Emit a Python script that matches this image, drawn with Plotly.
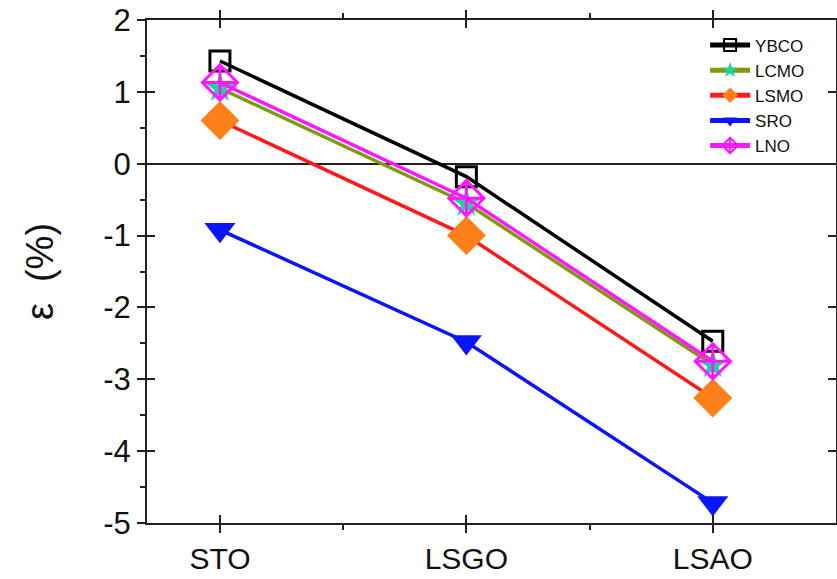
import plotly.graph_objects as go

substrates = ["STO", "LSGO", "LSAO"]
x_pos = [0, 1, 2]
y_ticks = [-5, -4, -3, -2, -1, 0, 1, 2]
y_ticktext = ["-5", "-4", "-3", "-2", "-1", "0", "1", "2"]

ybco = [1.43, -0.18, -2.47]
lcmo = [1.05, -0.55, -2.80]
lsmo = [0.60, -1.00, -3.26]
sro = [-0.92, -2.48, -4.72]
lno = [1.13, -0.48, -2.75]

series = [
    ("YBCO", ybco, "black", "square-open", "black", 20, 3),
    ("LCMO", lcmo, "#7f9a0e", "star", "#1fd3a0", 22, 0),
    ("LSMO", lsmo, "#ff1a1a", "diamond", "#ff8019", 30, 0),
    ("SRO", sro, "#0a14ff", "triangle-down", "#0a14ff", 27, 0),
    ("LNO", lno, "#ff18ff", "diamond-cross-open", "#ff18ff", 27, 3),
]

fig = go.Figure()
for name, vals, lc, sym, mc, ms, mlw in series:
    fig.add_trace(go.Scatter(
        x=x_pos, y=vals, name=name, mode="lines+markers",
        line=dict(color=lc, width=3.5),
        marker=dict(symbol=sym, size=ms, color=mc,
                    line=dict(color=mc, width=mlw)),
    ))

fig.add_trace(go.Scatter(x=[0], y=[0], xaxis="x2", yaxis="y2",
                         mode="markers", marker=dict(opacity=0),
                         showlegend=False, hoverinfo="skip"))

font = "Liberation Sans, Arial, sans-serif"
xr = [-0.296, 2.5]
yr = [-5, 2]
common_x = dict(range=xr, tickvals=x_pos, ticktext=substrates,
                showgrid=False, zeroline=False, automargin=False,
                linecolor="#222", linewidth=2, tickcolor="#222",
                ticklen=8, tickwidth=1.5, mirror="ticks",
                minor=dict(tickvals=[0.5, 1.5], ticklen=5, tickwidth=1.5,
                           tickcolor="#222"))
common_y = dict(range=yr, tickvals=y_ticks, ticktext=y_ticktext,
                showgrid=False, automargin=False,
                linecolor="#222", linewidth=2, tickcolor="#222",
                ticklen=8, tickwidth=1.5, mirror="ticks",
                minor=dict(dtick=0.5, ticklen=5, tickwidth=1.5,
                           tickcolor="#222"))

fig.update_layout(
    width=837, height=579,
    margin=dict(l=147, r=1, t=20, b=56),
    paper_bgcolor="white", plot_bgcolor="white",
    font=dict(family=font, color="#111"),
    xaxis=dict(**common_x, ticks="outside", tickfont=dict(size=30)),
    yaxis=dict(**common_y, ticks="outside", zeroline=True,
               zerolinecolor="#222", zerolinewidth=1.5,
               tickfont=dict(size=31),
               title=dict(text="ε  (%)", font=dict(size=38), standoff=38)),
    xaxis2=dict(**common_x, ticks="inside", overlaying="x",
                showticklabels=False),
    yaxis2=dict(**common_y, ticks="inside", overlaying="y",
                showticklabels=False, zeroline=False),
    legend=dict(x=0.81, y=0.985, xanchor="left", yanchor="top",
                bgcolor="rgba(0,0,0,0)", font=dict(size=17),
                itemsizing="constant", tracegroupgap=0, itemwidth=40),
    showlegend=True,
)

fig.write_html("out.html")
